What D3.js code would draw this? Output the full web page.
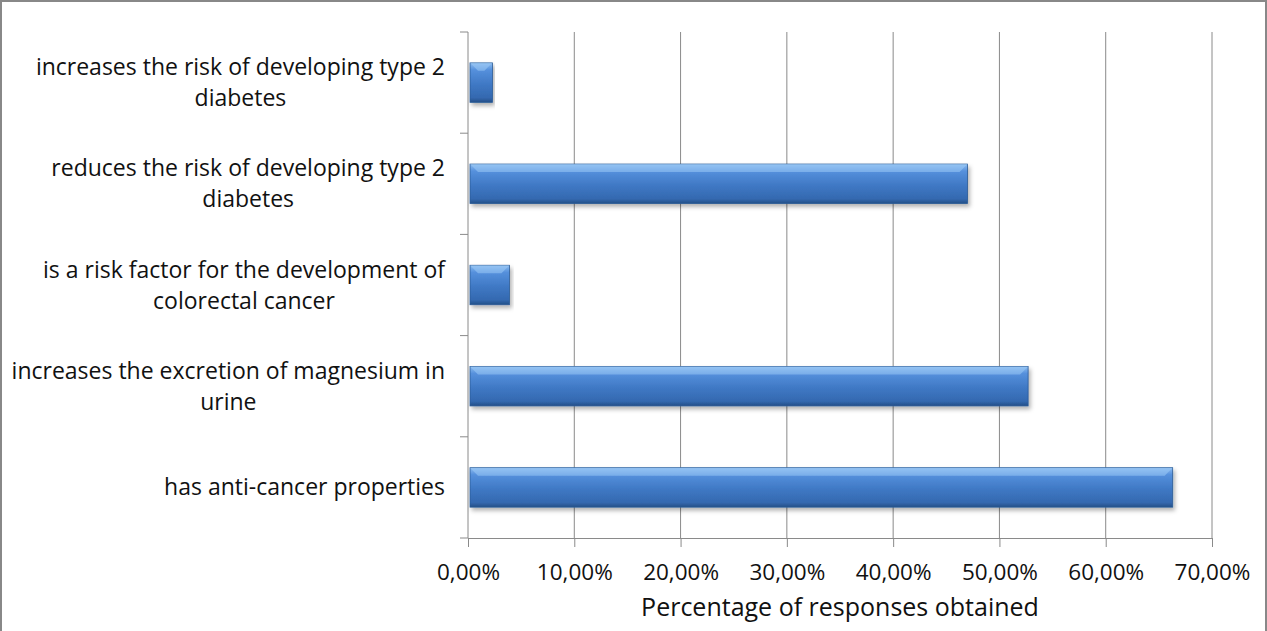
<!DOCTYPE html>
<html>
<head>
<meta charset="utf-8">
<script src="https://cdn.jsdelivr.net/npm/d3@7"></script>
<style>
  body { margin: 0; background: #fff; }
  svg { display: block; font-family: "Open Sans", sans-serif; }
</style>
</head>
<body>
<div id="chart"></div>
<script>
// categories, listed top to bottom as in the picture
const categories = [
  ["increases the risk of developing type 2", "diabetes"],
  ["reduces the risk of developing type 2", "diabetes"],
  ["is a risk factor for the development of", "colorectal cancer"],
  ["increases the excretion of magnesium in", "urine"],
  ["has anti-cancer properties"]
];
const values = [2.3, 47.0, 3.9, 52.7, 66.3];
const tickValues = [0, 10, 20, 30, 40, 50, 60, 70];

const W = 1267, H = 631;
const margin = {top: 32, right: 55, bottom: 93, left: 468};
const width = W - margin.left - margin.right;
const height = H - margin.top - margin.bottom;

const svg = d3.select("#chart").append("svg")
    .attr("width", W)
    .attr("height", H);

// gradient for the bars
const defs = svg.append("defs");
const grad = defs.append("linearGradient")
    .attr("id", "barGrad")
    .attr("x1", 0).attr("y1", 0).attr("x2", 0).attr("y2", 1);
grad.append("stop").attr("offset", "0%").attr("stop-color", "#8cbcf0");
grad.append("stop").attr("offset", "18%").attr("stop-color", "#5590dc");
grad.append("stop").attr("offset", "55%").attr("stop-color", "#3f78c4");
grad.append("stop").attr("offset", "88%").attr("stop-color", "#3469b0");
grad.append("stop").attr("offset", "100%").attr("stop-color", "#244f87");

const shadow = defs.append("filter").attr("id", "shadow")
    .attr("x", "-5%").attr("y", "-20%").attr("width", "115%").attr("height", "160%");
shadow.append("feDropShadow")
    .attr("dx", 2).attr("dy", 3).attr("stdDeviation", 2)
    .attr("flood-color", "#000").attr("flood-opacity", 0.3);

// outer border
svg.append("rect")
    .attr("x", 1).attr("y", 1)
    .attr("width", W - 2).attr("height", H + 10)
    .attr("fill", "none")
    .attr("stroke", "#888")
    .attr("stroke-width", 2);

const g = svg.append("g")
    .attr("transform", `translate(${margin.left},${margin.top})`);

const x = d3.scaleLinear().domain([0, 70]).range([0, width]);
const y = d3.scaleBand()
    .domain(d3.range(categories.length))
    .range([0, height])
    .paddingInner(0.61)
    .paddingOuter(0.305);

// vertical gridlines
g.selectAll(".grid")
  .data(tickValues.slice(1))
  .join("line")
    .attr("x1", d => x(d)).attr("x2", d => x(d))
    .attr("y1", 0).attr("y2", height)
    .attr("stroke", "#8a8a8a")
    .attr("stroke-width", 1);

// x axis
const xAxis = g.append("g")
    .attr("transform", `translate(0,${height})`)
    .call(d3.axisBottom(x)
      .tickValues(tickValues)
      .tickSize(9)
      .tickPadding(17)
      .tickFormat(d => d3.format(".2f")(d).replace(".", ",") + "%"));
xAxis.select(".domain").attr("stroke", "#8a8a8a");
xAxis.selectAll(".tick line").attr("stroke", "#8a8a8a");
xAxis.selectAll(".tick text")
    .attr("font-size", 22.5)
    .attr("font-family", "Open Sans, sans-serif")
    .attr("fill", "#111");

// y axis (line + ticks at band boundaries)
g.append("line")
    .attr("x1", 0).attr("x2", 0)
    .attr("y1", 0).attr("y2", height)
    .attr("stroke", "#8a8a8a");
const step = y.step();
g.selectAll(".ytick")
  .data(d3.range(categories.length + 1))
  .join("line")
    .attr("x1", -8).attr("x2", 0)
    .attr("y1", i => i * step).attr("y2", i => i * step)
    .attr("stroke", "#8a8a8a");

// bars
g.selectAll(".bar")
  .data(values)
  .join("rect")
    .attr("x", 2)
    .attr("y", (d, i) => y(i))
    .attr("width", d => x(d) - 2)
    .attr("height", y.bandwidth())
    .attr("fill", "url(#barGrad)")
    .attr("stroke", "#2a5a96")
    .attr("stroke-width", 0.8)
    .attr("filter", "url(#shadow)");

// bevel highlights on bar ends
g.selectAll(".bevel")
  .data(values)
  .join("path")
    .attr("d", (d, i) => {
      const x0 = 2, x1 = x(d), y0 = y(i), b = 8;
      return `M${x0},${y0} L${x1},${y0} L${x1 - b},${y0 + b} L${x0 + b},${y0 + b} Z`;
    })
    .attr("fill", "#9ccaf5")
    .attr("opacity", 0.55);

// category labels
const labelRight = -23;
const lineH = 31;
categories.forEach((lines, i) => {
  const cy = y(i) + y.bandwidth() / 2;
  const t = g.append("text")
      .attr("font-size", 23)
      .attr("fill", "#111");
  const spans = lines.map((s, j) => t.append("tspan")
      .attr("y", cy + (j - (lines.length - 1) / 2) * lineH)
      .attr("dy", "0.35em")
      .text(s));
  const widths = spans.map(sp => sp.node().getComputedTextLength());
  const maxW = d3.max(widths);
  const center = labelRight - maxW / 2;
  spans.forEach(sp => sp.attr("x", center).attr("text-anchor", "middle"));
});

// x axis title
g.append("text")
    .attr("x", width / 2)
    .attr("y", height + 78)
    .attr("text-anchor", "middle")
    .attr("font-size", 25)
    .attr("fill", "#111")
    .text("Percentage of responses obtained");
</script>
</body>
</html>
